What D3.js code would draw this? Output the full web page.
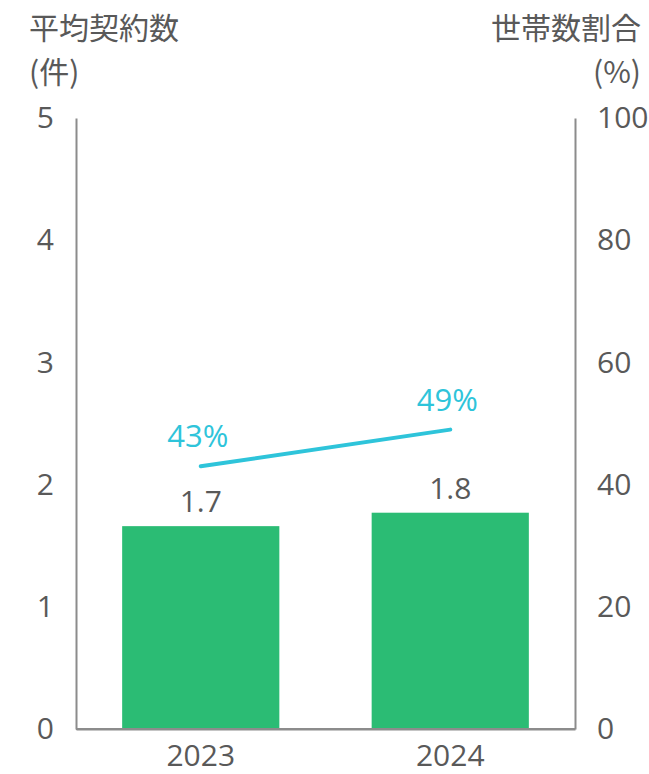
<!DOCTYPE html>
<html>
<head>
<meta charset="utf-8">
<script src="https://cdn.jsdelivr.net/npm/d3@7"></script>
<style>
  body { margin: 0; background: #fff; }
  svg text { font-family: "Open Sans", "Noto Sans CJK JP", sans-serif; fill: #595959; }
</style>
</head>
<body>
<script>
const years = ['2023', '2024'];
const avgContracts = [1.66, 1.77];   // 平均契約数 (件)
const householdShare = [43, 49];     // 世帯数割合 (%)
const leftTicks = [0, 1, 2, 3, 4, 5];
const rightTicks = [0, 20, 40, 60, 80, 100];

const width = 649;
const height = 774;
const margin = { top: 118, right: 74, bottom: 45, left: 76 };

const svg = d3.select('body').append('svg')
  .attr('width', width)
  .attr('height', height);

const x = d3.scaleBand()
  .domain(years)
  .range([margin.left, width - margin.right])
  .paddingInner(0.37)
  .paddingOuter(0.185);

const yLeft = d3.scaleLinear()
  .domain([0, 5])
  .range([height - margin.bottom, margin.top]);

const yRight = d3.scaleLinear()
  .domain([0, 100])
  .range([height - margin.bottom, margin.top]);

// axes
const leftAxis = svg.append('g')
  .attr('transform', `translate(${margin.left},0)`)
  .call(d3.axisLeft(yLeft).tickValues(leftTicks).tickFormat(d3.format('d'))
    .tickSize(0).tickPadding(22));

const rightAxis = svg.append('g')
  .attr('transform', `translate(${width - margin.right},0)`)
  .call(d3.axisRight(yRight).tickValues(rightTicks).tickFormat(d3.format('d'))
    .tickSize(0).tickPadding(22));

const bottomAxis = svg.append('g')
  .attr('transform', `translate(0,${height - margin.bottom})`)
  .call(d3.axisBottom(x).tickSize(0).tickPadding(16));

[leftAxis, rightAxis, bottomAxis].forEach(a => {
  a.select('.domain').attr('stroke', '#8c8c8c').attr('stroke-width', 2);
  a.selectAll('text').attr('font-size', 30).attr('fill', '#595959')
    .style('font-family', '"Open Sans", sans-serif');
});

// bars
svg.selectAll('.bar')
  .data(avgContracts)
  .enter().append('rect')
    .attr('class', 'bar')
    .attr('x', (d, i) => x(years[i]))
    .attr('width', x.bandwidth())
    .attr('y', d => yLeft(d))
    .attr('height', d => yLeft(0) - yLeft(d))
    .attr('fill', '#2bbc74');

// redraw baseline on top of bars
svg.append('line')
  .attr('x1', margin.left).attr('x2', width - margin.right)
  .attr('y1', yLeft(0)).attr('y2', yLeft(0))
  .attr('stroke', '#8c8c8c').attr('stroke-width', 2);

svg.selectAll('.bar-label')
  .data(avgContracts)
  .enter().append('text')
    .attr('class', 'bar-label')
    .attr('x', (d, i) => x(years[i]) + x.bandwidth() / 2)
    .attr('y', d => yLeft(d) - 14)
    .attr('text-anchor', 'middle')
    .attr('font-size', 30)
    .text(d => d3.format('.1f')(d));

// line
const line = d3.line()
  .x((d, i) => x(years[i]) + x.bandwidth() / 2)
  .y(d => yRight(d));

svg.append('path')
  .datum(householdShare)
  .attr('d', line)
  .attr('fill', 'none')
  .attr('stroke', '#2ec4da')
  .attr('stroke-width', 4)
  .attr('stroke-linecap', 'round');

svg.selectAll('.line-label')
  .data(householdShare)
  .enter().append('text')
    .attr('class', 'line-label')
    .attr('x', (d, i) => x(years[i]) + x.bandwidth() / 2 - 3)
    .attr('y', d => yRight(d) - 19)
    .attr('text-anchor', 'middle')
    .attr('font-size', 31)
    .style('fill', '#2ec4da')
    .text(d => d + '%');

// axis titles
const titleFont = '"Noto Sans CJK JP", sans-serif';
svg.append('text')
  .attr('x', 29).attr('y', 39)
  .attr('font-size', 30)
  .style('font-family', titleFont)
  .text('平均契約数');
svg.append('text')
  .attr('x', 29).attr('y', 83)
  .attr('font-size', 30)
  .style('font-family', titleFont)
  .text('(件)');

svg.append('text')
  .attr('x', 641).attr('y', 39)
  .attr('text-anchor', 'end')
  .attr('font-size', 30)
  .style('font-family', titleFont)
  .text('世帯数割合');
svg.append('text')
  .attr('x', 641).attr('y', 83)
  .attr('text-anchor', 'end')
  .attr('font-size', 30)
  .style('font-family', titleFont)
  .text('(%)');
</script>
</body>
</html>
